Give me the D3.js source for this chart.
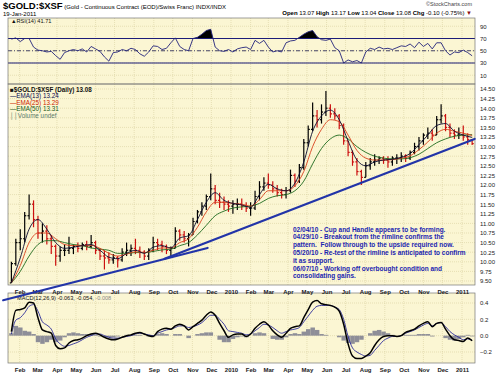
<!DOCTYPE html>
<html>
<head>
<meta charset="utf-8">
<script src="https://cdn.jsdelivr.net/npm/d3@7"></script>
<style>
body { margin: 0; background: #fff; }
svg text { font-family: "Liberation Sans", Arial, sans-serif; }
</style>
</head>
<body>
<svg id="chart" width="500" height="374"></svg>
<script>
// weekly bars, Monday of each week 19-Jan-2009 .. 17-Jan-2011
var weeks = d3.timeMonday.range(new Date(2009, 0, 19), new Date(2011, 0, 18));

var high = [10.0,10.6,10.85,11.3,11.75,11.6,11.2,11.0,10.95,10.7,
  10.45,10.4,10.45,10.65,10.45,10.5,10.5,10.55,10.7,10.55,
  10.35,10.3,10.25,10.2,10.15,10.35,10.5,10.45,10.6,10.4,
  10.3,10.35,10.65,10.6,10.55,10.45,10.4,10.9,10.85,10.8,
  10.75,11.15,11.35,11.55,11.75,12.3,12.0,11.8,11.7,11.6,
  11.6,11.65,11.65,11.55,11.55,11.85,12.1,12.2,12.3,12.1,
  12.0,11.9,11.95,12.4,12.3,12.55,13.2,13.55,14.15,13.95,
  14.1,14.45,14.1,14.0,13.85,13.6,13.15,12.9,12.7,12.4,
  12.6,12.7,12.8,12.75,12.75,12.75,12.75,12.8,12.85,12.8,
  12.9,13.1,13.25,13.35,13.5,13.45,13.8,14.1,13.85,13.6,
  13.45,13.5,13.55,13.35,13.17];
var low = [9.45,9.9,10.3,10.5,11.1,10.9,10.6,10.5,10.45,10.2,
  9.9,10.0,10.15,10.2,10.2,10.25,10.3,10.3,10.35,10.2,
  10.05,9.8,9.95,9.95,9.85,10.0,10.15,10.15,10.2,10.1,
  10.05,10.05,10.25,10.3,10.25,10.2,10.15,10.35,10.55,10.5,
  10.4,10.7,11.0,11.2,11.35,11.6,11.5,11.4,11.35,11.3,
  11.25,11.35,11.35,11.3,11.2,11.35,11.6,11.85,11.9,11.8,
  11.7,11.65,11.65,11.8,11.95,12.05,12.4,13.0,13.4,13.5,
  13.6,13.8,13.75,13.7,13.45,13.05,12.75,12.5,12.25,12.0,
  12.2,12.4,12.5,12.55,12.55,12.45,12.5,12.55,12.6,12.6,
  12.65,12.8,12.9,13.05,13.2,13.15,13.3,13.6,13.4,13.25,
  13.2,13.2,13.15,13.05,13.04];
var close = [9.95,10.5,10.6,11.2,11.5,11.1,10.75,10.8,10.6,10.4,
  10.15,10.3,10.3,10.35,10.4,10.35,10.45,10.4,10.5,10.3,
  10.15,10.1,10.05,10.1,10.05,10.25,10.3,10.35,10.3,10.25,
  10.15,10.3,10.5,10.45,10.4,10.3,10.35,10.8,10.7,10.6,
  10.7,11.05,11.3,11.45,11.7,11.9,11.6,11.55,11.5,11.45,
  11.5,11.5,11.45,11.4,11.4,11.7,11.95,12.05,12.0,11.9,
  11.8,11.75,11.85,12.25,12.1,12.45,13.1,13.45,13.8,13.7,
  13.9,14.0,13.85,13.8,13.55,13.15,12.85,12.6,12.35,12.2,
  12.5,12.6,12.65,12.7,12.65,12.6,12.7,12.7,12.75,12.7,
  12.85,13.0,13.15,13.3,13.35,13.3,13.7,13.8,13.5,13.35,
  13.3,13.3,13.25,13.18,13.08];

// moving averages read every second week
var ema13 = [9.45,10.1,10.85,11.1,10.85,10.5,10.35,10.38,10.42,10.45,
  10.3,10.12,10.08,10.22,10.3,10.22,10.38,10.42,10.36,10.62,
  10.68,11.1,11.55,11.8,11.6,11.52,11.48,11.42,11.75,12.02,
  11.9,11.85,12.05,12.6,13.4,13.8,13.95,13.7,13.15,12.65,
  12.5,12.6,12.65,12.67,12.72,12.82,13.05,13.3,13.55,13.6,
  13.4,13.3,13.24];
var ema25 = [9.45,9.9,10.5,10.75,10.75,10.6,10.45,10.42,10.42,10.43,
  10.35,10.22,10.15,10.2,10.26,10.24,10.3,10.36,10.36,10.5,
  10.6,10.9,11.3,11.55,11.55,11.52,11.5,11.45,11.62,11.85,
  11.85,11.85,11.98,12.35,13.0,13.45,13.7,13.65,13.3,12.9,
  12.7,12.65,12.65,12.66,12.7,12.76,12.92,13.12,13.35,13.45,
  13.4,13.35,13.29];
var ema50 = [9.45,9.75,10.15,10.45,10.55,10.55,10.5,10.45,10.42,10.36,
  10.33,10.3,10.22,10.22,10.24,10.24,10.27,10.31,10.33,10.42,
  10.5,10.7,10.95,11.2,11.32,11.4,11.43,11.45,11.52,11.65,
  11.72,11.75,11.85,12.1,12.55,12.95,13.2,13.3,13.2,13.0,
  12.85,12.75,12.7,12.68,12.68,12.71,12.8,12.95,13.1,13.2,
  13.27,13.3,13.31];

var rsi = [69,71,65,70,70,56,51,50,48,49,
  42,36,47,50,52,50,53,48,57,53,
  49,40,33,47,48,52,50,54,52,45,
  41,48,58,57,52,54,63,71,57,52,
  50,70,72,77,83,85,56,50,49,52,
  48,53,55,56,52,67,62,67,56,48,
  50,48,63,66,67,72,77,81,83,73,
  68,67,69,55,50,30,35,32,34,30,
  48,54,52,56,53,54,52,55,58,57,
  61,55,64,57,62,53,63,63,50,43,
  48,47,51,47,41.71];

var macd = [0.05,0.31,0.32,0.34,0.41,0.40,0.22,0.07,0.05,0.03,
  -0.12,-0.16,-0.15,-0.09,-0.06,-0.05,-0.03,0.0,0.02,0.03,
  0.01,-0.02,-0.04,-0.05,-0.04,-0.02,0.0,0.01,0.03,0.04,
  0.02,0.0,-0.01,0.05,0.08,0.09,0.08,0.12,0.14,0.12,
  0.07,0.11,0.15,0.19,0.25,0.29,0.25,0.15,0.06,-0.02,
  0.01,0.02,0.02,-0.01,0.02,0.09,0.14,0.17,0.13,0.06,
  0.01,-0.02,0.03,0.09,0.11,0.12,0.22,0.32,0.41,0.43,
  0.39,0.38,0.37,0.35,0.30,0.14,-0.10,-0.25,-0.28,-0.28,
  -0.25,-0.21,-0.12,-0.05,-0.01,0.0,0.0,-0.01,0.0,0.04,
  0.06,0.08,0.12,0.15,0.17,0.11,0.15,0.16,0.08,0.0,
  -0.05,-0.06,-0.07,-0.03,-0.063];
var signal = [0.02,0.19,0.22,0.28,0.36,0.38,0.30,0.17,0.13,0.08,
  -0.04,-0.10,-0.13,-0.12,-0.10,-0.08,-0.05,-0.02,0.0,0.02,
  0.02,0.0,-0.02,-0.03,-0.03,-0.02,-0.01,0.0,0.02,0.03,
  0.02,0.01,0.0,0.03,0.05,0.07,0.08,0.10,0.12,0.12,
  0.10,0.11,0.13,0.16,0.21,0.25,0.25,0.20,0.14,0.06,
  0.05,0.04,0.03,0.01,0.02,0.06,0.10,0.14,0.13,0.10,
  0.06,0.03,0.05,0.07,0.08,0.10,0.17,0.24,0.31,0.36,
  0.37,0.37,0.37,0.35,0.32,0.20,-0.01,-0.15,-0.20,-0.23,
  -0.25,-0.24,-0.18,-0.12,-0.06,-0.03,-0.01,-0.01,0.0,0.03,
  0.05,0.07,0.10,0.13,0.15,0.12,0.15,0.16,0.11,0.05,
  0.01,-0.02,-0.05,-0.04,-0.054];

var monthTicks = ["2009-02","2009-03","2009-04","2009-05","2009-06","2009-07","2009-08",
  "2009-09","2009-10","2009-11","2009-12","2010-01","2010-02","2010-03","2010-04",
  "2010-05","2010-06","2010-07","2010-08","2010-09","2010-10","2010-11","2010-12","2011-01"];
var priceTicks = [9.5,9.75,10,10.25,10.5,10.75,11,11.25,11.5,11.75,12,12.25,12.5,12.75,
  13,13.25,13.5,13.75,14,14.25,14.5];
var rsiTicks = [10,30,50,70,90];
var macdTicks = [-0.2,0,0.2,0.4];

// rimline annotations (date, price)
var trendLines = [
  [["2009-01-06", 9.0], ["2009-11-25", 10.36]],
  [["2009-09-18", 10.08], ["2011-01-21", 13.2]]
];
var notes = [
  "02/04/10 - Cup and Handle appears to be forming.",
  "04/29/10 - Breakout from the rimline confirms the",
  "pattern.  Follow through to the upside required now.",
  "05/20/10 - Re-test of the rimline is anticipated to confirm",
  "it as support.",
  "06/07/10 - Working off overbought condition and",
  "consolidating gains."
];

var svg = d3.select("#chart");
var left = 8, right = 475;
var bg = "#fbf6d3", gridColor = "#d9d0a0";
var wide = "DejaVu Sans, Verdana, sans-serif";
var parseM = d3.timeParse("%Y-%m"), parseD = d3.timeParse("%Y-%m-%d");
var months = monthTicks.map(parseM);
var biweeks = weeks.filter(function (d, i) { return i % 2 === 0; });

var x = d3.scaleTime()
  .domain([new Date(2009, 0, 1), new Date(2011, 0, 1)])
  .range([0, 462]);
var yPrice = d3.scaleLinear().domain([10, 14.5]).range([261.8, 89]);
var yRsi = d3.scaleLinear().domain([30, 70]).range([63, 38.5]);
var yMacd = d3.scaleLinear().domain([-0.2, 0.4]).range([352, 303]);

function panel(top, bottom, yScale, ticks, fmt, id) {
  var g = svg.append("g");
  g.append("rect").attr("x", left).attr("y", top)
    .attr("width", right - left).attr("height", bottom - top)
    .attr("fill", bg);
  g.selectAll(".vg").data(months).enter().append("line")
    .attr("x1", function (d) { return x(d); }).attr("x2", function (d) { return x(d); })
    .attr("y1", top).attr("y2", bottom)
    .attr("stroke", gridColor).attr("stroke-width", 0.6).attr("stroke-dasharray", "1,1");
  g.selectAll(".hg").data(ticks).enter().append("line")
    .attr("x1", left).attr("x2", right)
    .attr("y1", function (d) { return yScale(d); }).attr("y2", function (d) { return yScale(d); })
    .attr("stroke", gridColor).attr("stroke-width", 0.6).attr("stroke-dasharray", "1,1");
  var ax = svg.append("g").attr("transform", "translate(" + (right + 2) + ",0)")
    .call(d3.axisRight(yScale).tickValues(ticks).tickFormat(d3.format(fmt)).tickSize(0));
  ax.select(".domain").remove();
  ax.selectAll("text").attr("font-size", 6).attr("fill", "#222")
    .attr("font-family", "Liberation Sans, Arial, sans-serif");
  svg.append("clipPath").attr("id", id).append("rect")
    .attr("x", left).attr("y", top).attr("width", right - left).attr("height", bottom - top);
  return g;
}

function border(top, bottom) {
  svg.append("rect").attr("x", left).attr("y", top)
    .attr("width", right - left).attr("height", bottom - top)
    .attr("fill", "none").attr("stroke", "#777").attr("stroke-width", 0.7);
}

function monthAxis(yPos) {
  var ax = svg.append("g").attr("transform", "translate(0," + yPos + ")")
    .call(d3.axisBottom(x).tickValues(months).tickSize(0)
      .tickFormat(function (d) { return d.getMonth() === 0 ? d.getFullYear() : d3.timeFormat("%b")(d); }));
  ax.select(".domain").remove();
  ax.selectAll("text").attr("font-size", 6).attr("fill", "#222").attr("font-weight", "bold")
    .attr("font-family", "Liberation Sans, Arial, sans-serif");
}

// ---- RSI panel
panel(18, 84, yRsi, rsiTicks, "d", "clipRsi");
var rsiG = svg.append("g").attr("clip-path", "url(#clipRsi)");
svg.append("clipPath").attr("id", "over70").append("rect")
  .attr("x", left).attr("y", 18).attr("width", right - left).attr("height", yRsi(70) - 18);
svg.append("clipPath").attr("id", "under30").append("rect")
  .attr("x", left).attr("y", yRsi(30)).attr("width", right - left).attr("height", 84 - yRsi(30));
var rsiX = function (d, i) { return x(weeks[i]); };
rsiG.append("path").datum(rsi).attr("clip-path", "url(#over70)")
  .attr("d", d3.area().x(rsiX).y0(yRsi(70)).y1(function (d) { return yRsi(d); }))
  .attr("fill", "#000");
rsiG.append("path").datum(rsi).attr("clip-path", "url(#under30)")
  .attr("d", d3.area().x(rsiX).y0(yRsi(30)).y1(function (d) { return yRsi(d); }))
  .attr("fill", "#000");
[70, 30].forEach(function (v) {
  rsiG.append("line").attr("x1", left).attr("x2", right)
    .attr("y1", yRsi(v)).attr("y2", yRsi(v))
    .attr("stroke", "#1c1c78").attr("stroke-width", 1.2);
});
rsiG.append("line").attr("x1", left).attr("x2", right)
  .attr("y1", yRsi(50)).attr("y2", yRsi(50))
  .attr("stroke", "#1c1c50").attr("stroke-width", 0.8).attr("stroke-dasharray", "4,2,1,2");
rsiG.append("path").datum(rsi)
  .attr("d", d3.line().x(rsiX).y(function (d) { return yRsi(d); }))
  .attr("fill", "none").attr("stroke", "#22227a").attr("stroke-width", 0.9);
svg.append("text").attr("x", 11).attr("y", 23).attr("font-size", 5.6).attr("fill", "#111")
  .attr("font-family", wide).text("\u25B2RSI(14) 41.71");

// ---- price panel
panel(84, 285, yPrice, priceTicks, ".2f", "clipPrice");
var pg = svg.append("g").attr("clip-path", "url(#clipPrice)");
var bars = pg.selectAll(".bar").data(weeks).enter().append("g")
  .attr("stroke", function (d, i) { return i > 0 && close[i] < close[i - 1] ? "#cc1010" : "#000"; })
  .attr("stroke-width", 1.2);
bars.append("line")
  .attr("x1", function (d) { return x(d); }).attr("x2", function (d) { return x(d); })
  .attr("y1", function (d, i) { return yPrice(high[i]); })
  .attr("y2", function (d, i) { return yPrice(low[i]); });
bars.append("line")
  .attr("x1", function (d) { return x(d) - 1.6; }).attr("x2", function (d) { return x(d); })
  .attr("y1", function (d, i) { return yPrice(i > 0 ? close[i - 1] : low[i]); })
  .attr("y2", function (d, i) { return yPrice(i > 0 ? close[i - 1] : low[i]); });
bars.append("line")
  .attr("x1", function (d) { return x(d); }).attr("x2", function (d) { return x(d) + 1.6; })
  .attr("y1", function (d, i) { return yPrice(close[i]); })
  .attr("y2", function (d, i) { return yPrice(close[i]); });

var emaLine = d3.line().curve(d3.curveMonotoneX)
  .x(function (d, i) { return x(biweeks[i]); })
  .y(function (d) { return yPrice(d); });
[[ema50, "#1d6a1d"], [ema25, "#d8401c"], [ema13, "#0a0a30"]].forEach(function (s) {
  pg.append("path").datum(s[0]).attr("d", emaLine)
    .attr("fill", "none").attr("stroke", s[1]).attr("stroke-width", 0.9);
});

var legend = svg.append("g").attr("font-size", 6.3).attr("font-family", wide);
legend.append("text").attr("x", 10).attr("y", 91.5).attr("font-weight", "bold").attr("fill", "#111")
  .text("\u25A0$GOLD:$XSF (Daily) 13.08");
[["\u2014EMA(13) 13.24", "#0a0a50"], ["\u2014EMA(25) 13.29", "#cc2200"],
 ["\u2014EMA(50) 13.31", "#1d5a1d"], ["\u2502\u2502Volume undef", "#5a7a6a"]].forEach(function (l, i) {
  legend.append("text").attr("x", 10).attr("y", 98 + i * 6.5).attr("fill", l[1]).text(l[0]);
});

// ---- MACD panel
panel(293, 363, yMacd, macdTicks, ".1f", "clipMacd");
var mg = svg.append("g").attr("clip-path", "url(#clipMacd)");
mg.selectAll(".hist").data(weeks).enter().append("rect")
  .attr("x", function (d) { return x(d) - 2.2; })
  .attr("width", 4.5)
  .attr("y", function (d, i) { return Math.min(yMacd(0), yMacd(macd[i] - signal[i])); })
  .attr("height", function (d, i) { return Math.abs(yMacd(macd[i] - signal[i]) - yMacd(0)); })
  .attr("fill", "#8e8e98");
var weekLine = function (arr) {
  return d3.line().curve(d3.curveMonotoneX)
    .x(function (d, i) { return x(weeks[i]); })
    .y(function (d) { return yMacd(d); })(arr);
};
mg.append("path").attr("d", weekLine(signal)).attr("fill", "none")
  .attr("stroke", "#2a2a9a").attr("stroke-width", 0.9);
mg.append("path").attr("d", weekLine(macd)).attr("fill", "none")
  .attr("stroke", "#000").attr("stroke-width", 1.5);
var mt = svg.append("text").attr("x", 17).attr("y", 300).attr("font-size", 5.6)
  .attr("font-family", wide).attr("fill", "#111");
mt.append("tspan").text("MACD(12,26,9) -0.063, -0.054, ");
mt.append("tspan").attr("fill", "#888").text("-0.008");

border(18, 84);
border(84, 285);
border(293, 363);
monthAxis(287);
monthAxis(365);

// ---- annotations
svg.selectAll(".trend").data(trendLines).enter().append("line")
  .attr("x1", function (d) { return x(parseD(d[0][0])); })
  .attr("y1", function (d) { return yPrice(d[0][1]); })
  .attr("x2", function (d) { return x(parseD(d[1][0])); })
  .attr("y2", function (d) { return yPrice(d[1][1]); })
  .attr("stroke", "#2234a8").attr("stroke-width", 2.2).attr("stroke-linecap", "round");

svg.selectAll(".note").data(notes).enter().append("text")
  .attr("x", 293).attr("y", function (d, i) { return 231.5 + i * 7.8; })
  .attr("font-size", 6.5).attr("font-weight", "bold").attr("fill", "#1a24b0")
  .attr("font-family", wide)
  .attr("xml:space", "preserve").style("white-space", "pre")
  .text(function (d) { return d; });

// ---- header
var title = svg.append("text").attr("x", 3).attr("y", 9).attr("fill", "#000");
title.append("tspan").attr("font-size", 9.5).attr("font-weight", "bold").text("$GOLD:$XSF");
title.append("tspan").attr("font-size", 6).text(" (Gold - Continuous Contract (EOD)/Swiss Franc) INDX/INDX");
svg.append("text").attr("x", 3).attr("y", 16).attr("font-size", 6).text("19-Jan-2011");
svg.append("text").attr("x", 472).attr("y", 6).attr("font-size", 5.5).attr("fill", "#444")
  .attr("font-family", wide).attr("text-anchor", "end").text("\u00A9StockCharts.com");
var ohlc = svg.append("text").attr("x", 472).attr("y", 15).attr("font-size", 6)
  .attr("font-family", wide).attr("text-anchor", "end").attr("fill", "#000");
[["Open", " 13.07 "], ["High", " 13.17 "], ["Low", " 13.04 "], ["Close", " 13.08 "], ["Chg", " -0.10 (-0.75%) "]]
  .forEach(function (p) {
    ohlc.append("tspan").attr("font-weight", "bold").text(p[0]);
    ohlc.append("tspan").attr("xml:space", "preserve").style("white-space", "pre").text(p[1]);
  });
ohlc.append("tspan").attr("fill", "#8a1010").text("\u25BC");
</script>
</body>
</html>
